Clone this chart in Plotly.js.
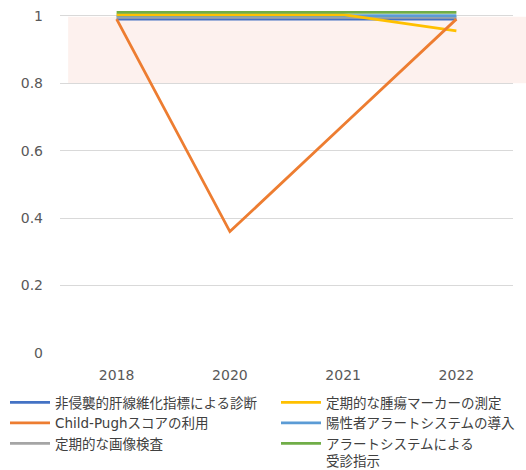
<!DOCTYPE html>
<html><head><meta charset="utf-8">
<script src="https://cdn.plot.ly/plotly-3.0.1.min.js"></script>
<style>html,body{margin:0;padding:0;background:#fff}</style>
</head><body>
<div id="chart" style="width:526px;height:470px"></div>
<script>
const years = ['2018', '2020', '2021', '2022'];
const names = ['非侵襲的肝線維化指標による診断', 'Child-Pughスコアの利用', '定期的な画像検査', '定期的な腫瘍マーカーの測定', '陽性者アラートシステムの導入', 'アラートシステムによる<br>受診指示'];
const nonInvasive = [0.99, 0.99, 0.99, 0.99];
const childPugh = [0.99, 0.36, 0.675, 0.99];
const imaging = [0.995, 0.995, 0.995, 0.995];
const tumorMarker = [1.003, 1.003, 1.003, 0.955];
const alertSystem = [1.0, 1.0, 1.0, 1.0];
const alertVisit = [1.01, 1.01, 1.01, 1.01];
const yTicks = [0, 0.2, 0.4, 0.6, 0.8, 1];
const yTickText = ['0', '0.2', '0.4', '0.6', '0.8', '1'];

const series = [nonInvasive, childPugh, imaging, tumorMarker, alertSystem, alertVisit];
const colors = ['#4472C4', '#ED7D31', '#A5A5A5', '#FFC000', '#5B9BD5', '#70AD47'];
const legendOf = ['legend', 'legend', 'legend', 'legend2', 'legend2', 'legend2'];
const ranks = [1, 2, 3, 1, 2, 3];
const drawOrder = [0, 2, 4, 3, 5, 1];

const traces = drawOrder.map(i => ({
  type: 'scatter', mode: 'lines', x: years, y: series[i], name: names[i],
  line: {color: colors[i], width: 2.8}, legend: legendOf[i], legendrank: ranks[i], hoverinfo: 'skip'
}));

const font = 'DejaVu Sans, Verdana, "Noto Sans CJK JP", sans-serif';
const legendBase = {orientation: 'v', xref: 'container', yref: 'container', y: 1 - 387/470,
  xanchor: 'left', yanchor: 'top', font: {size: 13.5, color: '#404040', family: font},
  traceorder: 'normal', bgcolor: 'rgba(0,0,0,0)', itemwidth: 40, tracegroupgap: 0, valign: 'top'};
const layout = {
  width: 526, height: 470,
  margin: {l: 60, r: 13, t: 9, b: 117, autoexpand: false},
  paper_bgcolor: '#fff', plot_bgcolor: 'rgba(0,0,0,0)',
  font: {family: font, size: 14, color: '#595959'},
  showlegend: true,
  xaxis: {type: 'category', showgrid: false, zeroline: false, showline: false, ticks: '',
          tickfont: {size: 14, color: '#595959'}, range: [-0.5, 3.5], ticklabelstandoff: 12, automargin: false},
  yaxis: {range: [0, 1.02], tickvals: yTicks, ticktext: yTickText, showgrid: true,
          gridcolor: '#D9D9D9', gridwidth: 1, zeroline: false, showline: false, ticks: '',
          tickfont: {size: 14, color: '#595959'}, ticklabelstandoff: 16, automargin: false},
  shapes: [{type: 'rect', xref: 'paper', yref: 'y', x0: 0.018, x1: 1.03, y0: 0.8, y1: 0.997,
            fillcolor: '#FDF1EE', line: {width: 0}, layer: 'below'}],
  legend: Object.assign({}, legendBase, {x: 5 / 526}),
  legend2: Object.assign({}, legendBase, {x: 276 / 526})
};
Plotly.newPlot('chart', traces, layout, {displayModeBar: false, staticPlot: true});
</script>
</body></html>
